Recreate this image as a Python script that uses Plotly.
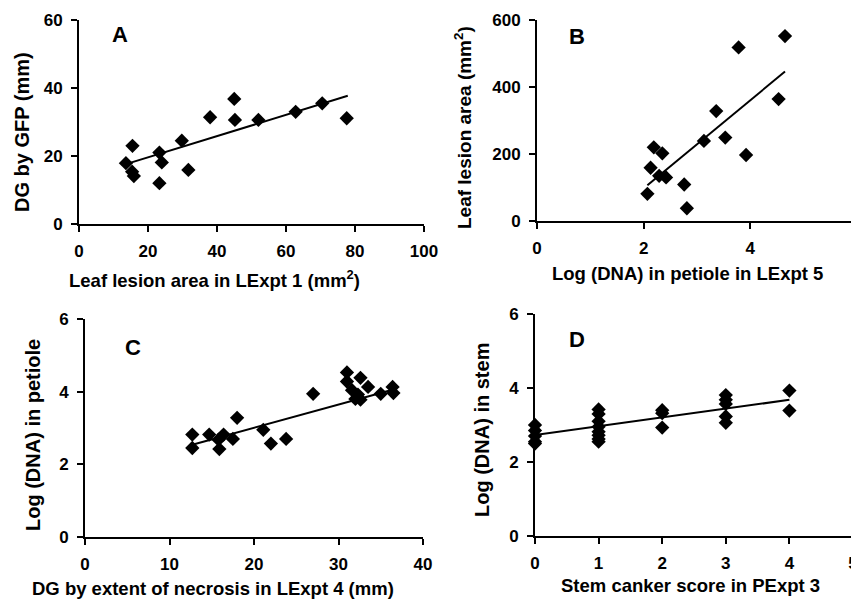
import numpy as np
import plotly.graph_objects as go

# === Data ===
# Panel A: leaf lesion area vs DG by GFP
a_x = [13.6, 15.5, 15.4, 15.9, 23.3, 24.0, 23.3, 29.8, 31.7, 38.0, 45.0, 45.2, 52.0, 62.8, 70.5, 77.6]
a_y = [17.9, 23.0, 15.4, 14.1, 21.0, 18.1, 12.0, 24.5, 15.9, 31.4, 36.8, 30.6, 30.6, 33.0, 35.5, 31.1]
a_fit_x = [13.6, 77.9]
a_fit_y = [17.6, 37.7]

# Panel B: log(DNA) in petiole vs leaf lesion area
b_x = [2.07, 2.13, 2.19, 2.35, 2.29, 2.42, 2.76, 2.81, 3.13, 3.36, 3.53, 3.78, 3.92, 4.53, 4.65]
b_y = [81, 159, 220, 202, 135, 130, 109, 38, 239, 328, 249, 518, 197, 364, 552]
b_fit_x = [2.07, 4.65]
b_fit_y = [107, 446]

# Panel C: DG by extent of necrosis vs log(DNA) in petiole
c_x = [12.7, 12.7, 14.7, 15.8, 15.9, 16.4, 17.5, 18.0, 21.1, 22.0, 23.8, 27.0,
       31.0, 31.0, 31.6, 32.0, 32.3, 32.6, 32.6, 33.5, 35.0, 36.4, 36.5]
c_y = [2.82, 2.45, 2.82, 2.68, 2.42, 2.82, 2.70, 3.28, 2.95, 2.57, 2.70, 3.94,
       4.53, 4.28, 4.04, 3.80, 3.92, 3.78, 4.38, 4.13, 3.94, 4.13, 3.96]
c_fit_x = [12.7, 36.5]
c_fit_y = [2.54, 4.06]

# Panel D: stem canker score vs log(DNA) in stem
d_x = [0, 0, 0, 0, 0, 1, 1, 1, 1, 1, 1, 1, 1, 2, 2, 2, 3, 3, 3, 3, 3, 4, 4]
d_y = [3.0, 2.85, 2.7, 2.55, 2.5, 3.42, 3.3, 3.1, 2.95, 2.82, 2.72, 2.62, 2.55,
       3.4, 3.32, 2.93, 3.81, 3.68, 3.57, 3.23, 3.06, 3.93, 3.39]
d_fit_x = [0, 4]
d_fit_y = [2.73, 3.68]

# page body has an 8px margin, so the figure is drawn 8px smaller and
# all positions below are given in window pixels
PAD = 8
W, H = 859 - PAD, 605 - PAD
FONT = "Liberation Sans, Arial, sans-serif"


def px_x(v):
    return (v - PAD) / W


def px_y(v):
    return 1 - (v - PAD) / H


fig = go.Figure()

panels = [
    # name, xs, ys, fit x, fit y, x range, dx, y range, dy, box (l, r, top, bottom)
    ("1", a_x, a_y, a_fit_x, a_fit_y, [0, 100], 20, [0, 60], 20, (79, 424, 20, 224)),
    ("2", b_x, b_y, b_fit_x, b_fit_y, [0, 6], 2, [0, 600], 200, (537, 857, 20, 221)),
    ("3", c_x, c_y, c_fit_x, c_fit_y, [0, 40], 10, [0, 6], 2, (85, 423, 319, 537)),
    ("4", d_x, d_y, d_fit_x, d_fit_y, [0, 5], 1, [0, 6], 2, (535, 853, 314, 536)),
]

layout_axes = {}
for name, xs, ys, fx, fy, xr, dx, yr, dy, box in panels:
    xa = "x" if name == "1" else "x" + name
    ya = "y" if name == "1" else "y" + name
    fig.add_trace(go.Scatter(x=fx, y=fy, xaxis=xa, yaxis=ya, mode="lines",
                             line=dict(color="black", width=2), showlegend=False,
                             cliponaxis=False))
    fig.add_trace(go.Scatter(x=xs, y=ys, xaxis=xa, yaxis=ya, mode="markers",
                             marker=dict(symbol="diamond", size=11, color="black"),
                             showlegend=False, cliponaxis=False))
    l, r, t, b = box
    common = dict(showgrid=False, zeroline=False, showline=True, linecolor="black",
                  linewidth=2, ticks="outside", ticklen=6, tickwidth=2, tickcolor="black",
                  automargin=False, ticklabeloverflow="allow",
                  tickfont=dict(family=FONT, size=17, color="black", weight="bold"))
    layout_axes["xaxis" if name == "1" else "xaxis" + name] = dict(
        domain=[px_x(l), px_x(r)], range=xr, dtick=dx, tick0=0,
        anchor=ya, ticklabelstandoff=5, **common)
    layout_axes["yaxis" if name == "1" else "yaxis" + name] = dict(
        domain=[px_y(b), px_y(t)], range=yr, dtick=dy, tick0=0,
        anchor=xa, ticklabelstandoff=5, **common)

fig.update_layout(**layout_axes)

# axis titles and panel letters
labels = [
    ("Leaf lesion area in LExpt 1 (mm<sup>2</sup>)", 214, 279, 0, 18.5),
    ("DG by GFP (mm)", 22, 132, -90, 20),
    ("Log (DNA) in petiole in LExpt 5", 687, 273, 0, 18.5),
    ("Leaf lesion area (mm<sup>2</sup>)", 463, 128, -90, 19),
    ("DG by extent of necrosis in LExpt 4 (mm)", 213, 588, 0, 18.5),
    ("Log (DNA) in petiole", 33, 435, -90, 20),
    ("Stem canker score in PExpt 3", 690, 585, 0, 18.5),
    ("Log (DNA) in stem", 482, 430, -90, 20),
    ("A", 120, 35, 0, 22),
    ("B", 577, 37, 0, 22),
    ("C", 133, 347, 0, 22),
    ("D", 577, 339, 0, 22),
]
for text, x, y, ang, size in labels:
    fig.add_annotation(text=text, x=px_x(x), y=px_y(y), xref="paper", yref="paper",
                       showarrow=False, textangle=ang, xanchor="center", yanchor="middle",
                       font=dict(family=FONT, size=size, color="black", weight="bold"))

fig.update_layout(width=W, height=H, margin=dict(l=0, r=0, t=0, b=0),
                  paper_bgcolor="white", plot_bgcolor="white")

fig.write_html("out.html")
